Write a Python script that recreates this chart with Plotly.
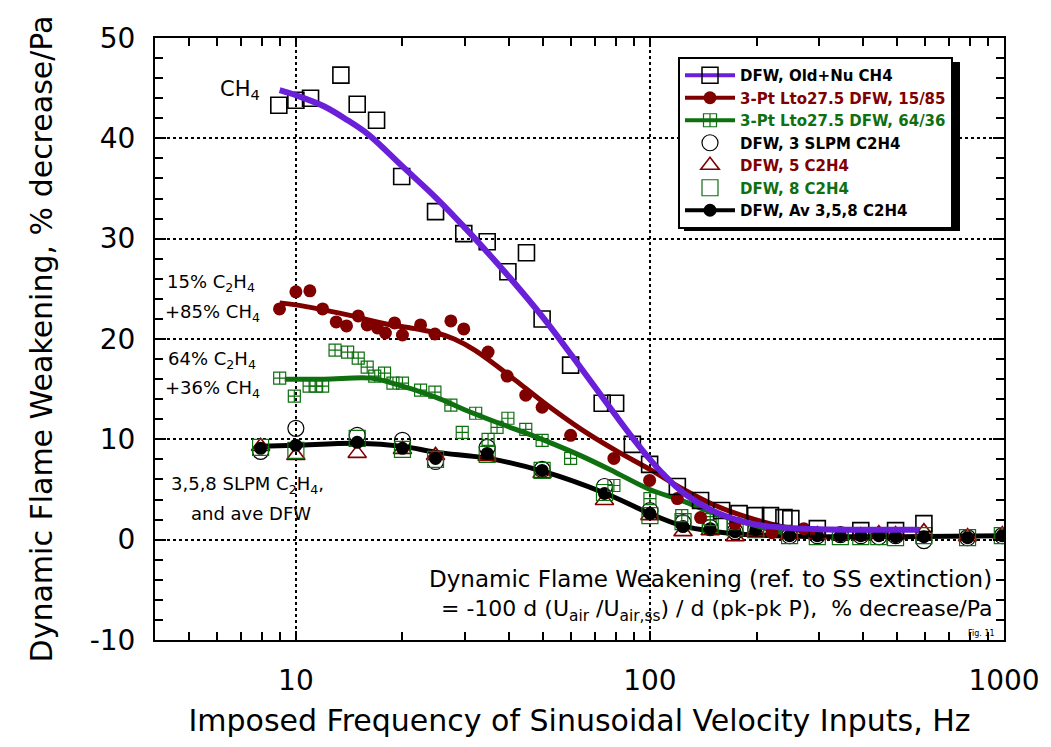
import plotly.graph_objects as go

# ---------------- data ----------------
# CH4 (Old+Nu) data, open squares
ch4_f = [8.95, 10.0, 11.0, 13.4, 14.9, 16.9, 19.9, 24.8, 29.8, 34.7, 39.7, 44.8, 49.6, 59.7, 73.3, 80.0,
         89.2, 99.8, 119.5, 139, 159.4, 178.5, 198.9, 219, 239, 250, 297, 394, 494, 594]
ch4_y = [43.3, 43.8, 44.0, 46.3, 43.4, 41.8, 36.2, 32.7, 30.5, 29.7, 26.7, 28.6, 22.0, 17.4, 13.6, 13.6,
         9.5, 7.5, 5.3, 3.9, 2.9, 2.6, 2.4, 2.4, 2.2, 2.1, 1.1, 0.9, 0.9, 1.6]
# CH4 fit curve
ch4_fit_f = [9, 10, 12, 14, 16, 20, 25, 30, 40, 50, 60, 70, 80, 90, 100, 110, 125, 150, 175, 200, 250, 300, 400, 575]
ch4_fit_y = [44.8, 44.3, 43.2, 41.8, 40.4, 37.2, 34.0, 31.1, 26.2, 22.1, 18.4, 15.2, 12.4, 10.0, 8.0,
             6.4, 4.6, 2.9, 2.0, 1.5, 1.15, 1.05, 1.0, 1.0]

# 15% C2H4 / 85% CH4, filled circles
r15_f = [8.99, 10.0, 10.95, 11.9, 13.0, 13.9, 15.0, 15.9, 17.0, 17.9, 19.0, 20.0, 22.5, 24.7, 27.4, 29.8,
         34.9, 39.5, 44.6, 49.6, 59.7, 79.1, 99.8, 119.5, 139, 174, 221, 272]
r15_y = [23.0, 24.7, 24.8, 23.0, 21.7, 21.3, 22.3, 21.4, 21.1, 20.6, 21.6, 20.4, 21.4, 20.5, 21.8, 21.0,
         18.7, 16.3, 14.4, 13.2, 10.4, 8.1, 5.9, 4.1, 2.2, 1.6, 0.7, 1.1]
r15_fit_f = [9, 10, 14, 18, 22, 25, 28, 32, 36, 42, 50, 64, 80, 100, 123, 153, 190, 236, 293]
r15_fit_y = [23.6, 23.4, 22.4, 21.5, 21.0, 20.6, 20.0, 18.9, 17.6, 15.8, 13.7, 11.0, 8.9, 7.0, 5.1, 3.4, 2.2, 1.3, 0.7]

# 64% C2H4 / 36% CH4, crossed squares
g64_f = [9.0, 9.9, 10.9, 11.4, 11.9, 12.9, 14.0, 15.0, 15.9, 16.7, 17.8, 18.8, 20.0, 22.5, 24.7, 27.4,
         29.5, 32.2, 34.9, 37.0, 39.7, 44.6, 49.6, 59.7, 79.1, 100, 123, 148, 172]
g64_y = [16.1, 14.3, 15.3, 15.3, 15.3, 18.9, 18.7, 18.1, 17.2, 16.3, 16.6, 15.6, 15.6, 14.9, 14.7, 13.4,
         10.7, 12.6, 10.0, 11.2, 12.1, 11.0, 9.9, 8.1, 5.4, 4.1, 2.4, 2.0, 1.6]
g64_fit_f = [9.3, 12, 16.3, 18.3, 24.8, 30.2, 37.5, 46.5, 52, 64.4, 80, 100, 123, 153, 190, 236]
g64_fit_y = [16.0, 16.0, 16.1, 15.7, 14.2, 12.9, 11.6, 10.4, 9.7, 8.3, 6.7, 5.0, 3.9, 2.6, 1.6, 0.7]

# C2H4 3, 5, 8 SLPM and average
c2_f = [7.95, 10, 14.9, 20, 24.8, 34.7, 49.6, 74.4, 100, 124, 148, 174, 199, 248, 297, 345, 394, 443, 494, 594, 789, 989]
c2_3slpm = [8.8, 11.1, 10.4, 9.9, 7.8, 9.2, 7.0, 5.3, 2.9, 1.7, 1.2, 0.8, 1.0, 0.4, 0.4, 0.5, 0.4, 0.3, 0.4, -0.1, 0.2, 0.4]
c2_5slpm = [9.3, 8.4, 8.6, 9.0, 8.4, 8.3, 6.6, 3.9, 2.4, 0.8, 0.9, 0.3, 0.8, 0.5, 0.5, 0.4, 0.4, 0.6, 0.5, 0.8, 0.3, 0.5]
c2_8slpm = [9.2, 8.9, 10.1, 9.0, 8.0, 8.5, 6.9, 4.7, 2.4, 1.8, 1.5, 1.2, 1.0, 0.4, 0.3, 0.3, 0.3, 0.3, 0.2, 0.4, 0.2, 0.4]
c2_avg = [9.1, 9.4, 9.7, 9.1, 8.1, 8.6, 6.9, 4.6, 2.6, 1.3, 1.1, 0.8, 1.0, 0.4, 0.4, 0.4, 0.4, 0.4, 0.3, 0.3, 0.2, 0.4]
avg_fit_f = [8, 10, 15, 20, 25, 35, 50, 75, 100, 123, 153, 190, 293, 500, 1000]
avg_fit_y = [9.3, 9.4, 9.6, 9.3, 8.7, 8.1, 6.8, 4.6, 2.6, 1.4, 0.8, 0.5, 0.3, 0.3, 0.4]

x_ticks = [10, 100, 1000]
x_ticktext = ["10", "100", "1000"]
x_minor = [4, 5, 6, 7, 8, 9, 20, 30, 40, 50, 60, 70, 80, 90, 200, 300, 400, 500, 600, 700, 800, 900]
y_ticks = [-10, 0, 10, 20, 30, 40, 50]
y_ticktext = ["-10", "0", "10", "20", "30", "40", "50"]

legend_names = [
    "DFW, Old+Nu CH4",
    "3-Pt Lto27.5 DFW, 15/85",
    "3-Pt Lto27.5 DFW, 64/36",
    "DFW, 3 SLPM C2H4",
    "DFW, 5 C2H4",
    "DFW, 8 C2H4",
    "DFW, Av 3,5,8 C2H4",
]

# ---------------- styles ----------------
PURPLE = "#6a1fd8"
DRED = "#800000"
GREEN = "#0f7010"
BLACK = "#000000"
FONT = "DejaVu Sans"

fig = go.Figure()

# C2H4 series
fig.add_trace(go.Scatter(x=avg_fit_f, y=avg_fit_y, mode="lines", line=dict(color=BLACK, width=5, shape="spline"),
                         showlegend=False))
fig.add_trace(go.Scatter(x=c2_f, y=c2_3slpm, mode="markers", showlegend=False,
                         marker=dict(symbol="circle-open", size=16, color=BLACK, line=dict(width=1.2))))
fig.add_trace(go.Scatter(x=c2_f, y=c2_5slpm, mode="markers", showlegend=False,
                         marker=dict(symbol="triangle-up-open", size=16, color=DRED, line=dict(width=1.6))))
fig.add_trace(go.Scatter(x=c2_f, y=c2_8slpm, mode="markers", showlegend=False,
                         marker=dict(symbol="square-open", size=16, color=GREEN, line=dict(width=1.2))))
fig.add_trace(go.Scatter(x=c2_f, y=c2_avg, mode="markers", showlegend=False,
                         marker=dict(symbol="circle", size=13, color=BLACK)))

# 64/36
fig.add_trace(go.Scatter(x=g64_f, y=g64_y, mode="markers", showlegend=False,
                         marker=dict(symbol="square-cross-open", size=12, color=GREEN, line=dict(width=1.2))))
fig.add_trace(go.Scatter(x=g64_fit_f, y=g64_fit_y, mode="lines", line=dict(color=GREEN, width=5, shape="spline"),
                         showlegend=False))
# 15/85
fig.add_trace(go.Scatter(x=r15_f, y=r15_y, mode="markers", showlegend=False,
                         marker=dict(symbol="circle", size=13, color=DRED)))
fig.add_trace(go.Scatter(x=r15_fit_f, y=r15_fit_y, mode="lines", line=dict(color=DRED, width=5, shape="spline"),
                         showlegend=False))
# CH4
fig.add_trace(go.Scatter(x=ch4_f, y=ch4_y, mode="markers", showlegend=False,
                         marker=dict(symbol="square-open", size=16, color=BLACK, line=dict(width=1.6))))
fig.add_trace(go.Scatter(x=ch4_fit_f, y=ch4_fit_y, mode="lines", line=dict(color=PURPLE, width=6, shape="spline"),
                         showlegend=False))

# legend entries (symbols only, no data drawn)
leg_styles = [
    dict(mode="lines+markers", line=dict(color=PURPLE, width=4),
         marker=dict(symbol="square-open", size=16, color=BLACK, line=dict(width=1.5)), tc=BLACK),
    dict(mode="lines+markers", line=dict(color=DRED, width=4),
         marker=dict(symbol="circle", size=13, color=DRED), tc=DRED),
    dict(mode="lines+markers", line=dict(color=GREEN, width=4),
         marker=dict(symbol="square-cross-open", size=13, color=GREEN, line=dict(width=1.2)), tc=GREEN),
    dict(mode="markers", marker=dict(symbol="circle-open", size=16, color=BLACK, line=dict(width=1.2)), tc=BLACK),
    dict(mode="markers", marker=dict(symbol="triangle-up-open", size=16, color=DRED, line=dict(width=1.6)), tc=DRED),
    dict(mode="markers", marker=dict(symbol="square-open", size=16, color=GREEN, line=dict(width=1.2)), tc=GREEN),
    dict(mode="lines+markers", line=dict(color=BLACK, width=4),
         marker=dict(symbol="circle", size=13, color=BLACK), tc=BLACK),
]
for i, (nm, st) in enumerate(zip(legend_names, leg_styles)):
    tc = st.pop("tc")
    fig.add_trace(go.Scatter(x=[None], y=[None], name=f'<span style="color:{tc}">{nm}</span>',
                             legendgroup=f"g{i}", legendrank=i + 1, showlegend=True, **st))

# ---------------- layout helpers ----------------
L, R, T, B = 155, 1004, 38, 640
def px(x):
    return (x - L) / (R - L)
def py(y):
    return (B - y) / (B - T)

annots = [
    dict(text="CH<sub>4</sub>", x=px(218), y=py(90), size=21, xanchor="left"),
    dict(text="15% C<sub>2</sub>H<sub>4</sub>", x=px(165), y=py(283), size=18, xanchor="left"),
    dict(text="+85% CH<sub>4</sub>", x=px(163), y=py(313), size=18, xanchor="left"),
    dict(text="64% C<sub>2</sub>H<sub>4</sub>", x=px(166), y=py(360), size=18, xanchor="left"),
    dict(text="+36% CH<sub>4</sub>", x=px(163), y=py(389), size=18, xanchor="left"),
    dict(text="3,5,8 SLPM C<sub>2</sub>H<sub>4</sub>,", x=px(169), y=py(485), size=18, xanchor="left"),
    dict(text="and ave DFW", x=px(189), y=py(513), size=18, xanchor="left"),
    dict(text="Dynamic Flame Weakening (ref. to SS extinction)", x=px(994), y=py(579), size=23, xanchor="right"),
    dict(text="= -100 d (U<sub>air</sub> /U<sub>air,ss</sub>) / d (pk-pk P), &nbsp;% decrease/Pa",
         x=px(994), y=py(610), size=22, xanchor="right"),
    dict(text="Fig. 11", x=px(997), y=py(633), size=8, xanchor="right"),
]
annotations = [dict(text=a["text"], x=a["x"], y=a["y"], xref="paper", yref="paper", xanchor=a["xanchor"],
                    yanchor="middle", showarrow=False, font=dict(family=FONT, size=a["size"], color="black"))
               for a in annots]

# legend drop shadow (drawn beneath the legend box, offset down-right)
shapes = [dict(type="rect", xref="paper", yref="paper", x0=px(684), x1=px(960), y0=py(231), y1=py(62),
               fillcolor="black", line=dict(width=0), layer="above")]

axis_common = dict(showline=True, linecolor="black", linewidth=2, mirror="allticks", ticks="inside",
                   tickcolor="black", tickwidth=2, showgrid=True, gridcolor="black", griddash="dot",
                   gridwidth=1.5, zeroline=False, tickfont=dict(family=FONT, size=28, color="black"))

fig.update_layout(
    width=1051, height=747,
    margin=dict(l=L, r=1051 - R, t=T, b=747 - B),
    paper_bgcolor="white", plot_bgcolor="white",
    font=dict(family=FONT, color="black"),
    xaxis=dict(type="log", range=[0.6021, 3.0], tickvals=x_ticks, ticktext=x_ticktext, ticklen=9,
               minor=dict(tickvals=x_minor, ticks="inside", ticklen=8, tickcolor="black", tickwidth=2, showgrid=False),
               title=dict(text="Imposed Frequency of Sinusoidal Velocity Inputs, Hz",
                          font=dict(family=FONT, size=30), standoff=14),
               ticklabelstandoff=14, **axis_common),
    yaxis=dict(range=[-10, 50], tickvals=y_ticks, ticktext=y_ticktext, ticklen=11,
               minor=dict(dtick=2, ticks="inside", ticklen=8, tickcolor="black", tickwidth=2, showgrid=False),
               title=dict(text="Dynamic Flame Weakening, % decrease/Pa",
                          font=dict(family=FONT, size=30), standoff=28),
               ticklabelstandoff=12, **axis_common),
    legend=dict(x=px(678), y=py(57), xanchor="left", yanchor="top", bgcolor="white", bordercolor="black",
                borderwidth=2, tracegroupgap=1, itemwidth=50,
                font=dict(family=FONT, size=15, color="black", weight="bold"),
                traceorder="normal"),
    annotations=annotations,
    shapes=shapes,
)

fig.write_html("out.html")
